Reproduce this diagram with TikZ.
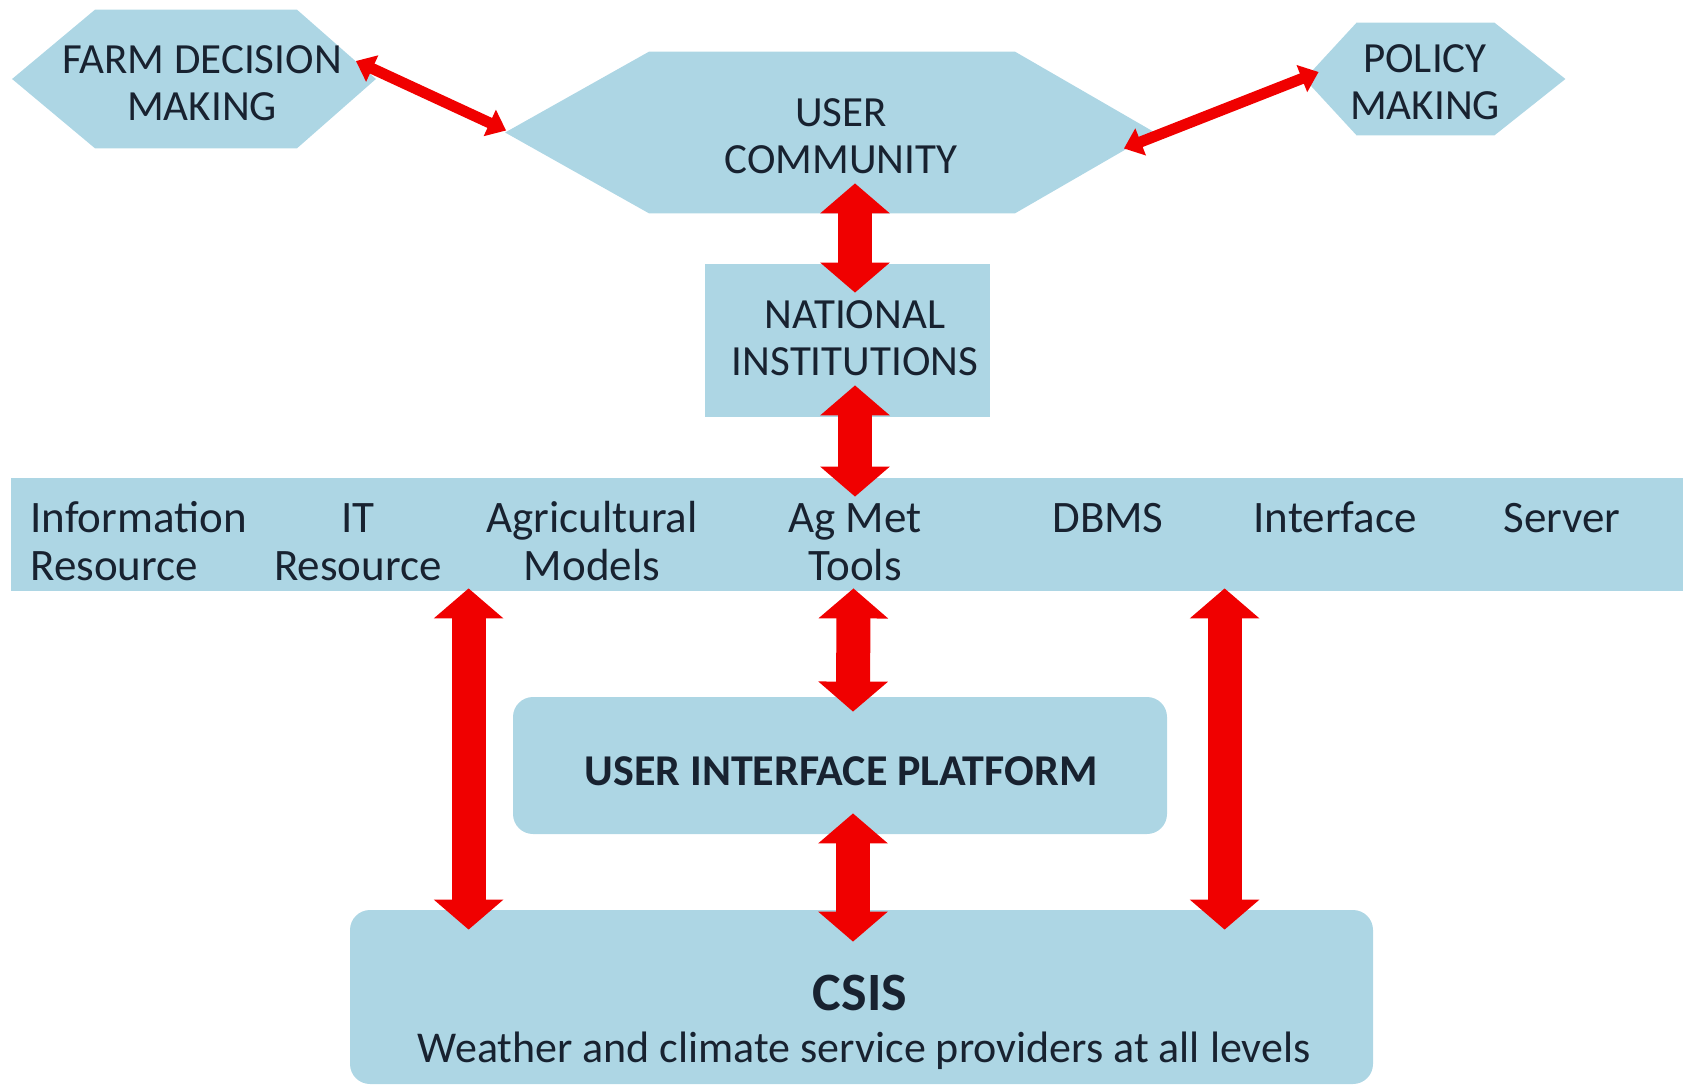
\documentclass[tikz,border=0pt]{standalone}
\usepackage{fontspec}
\setmainfont{Carlito}
\usetikzlibrary{arrows.meta,calc,backgrounds}
\definecolor{boxfill}{RGB}{173,214,228}
\definecolor{inkc}{RGB}{24,34,48}
\definecolor{arrred}{RGB}{240,0,0}
\tikzset{
  capfont/.style={font=\fontsize{21.5}{23.5}\selectfont},
  barfont/.style={font=\fontsize{22.5}{24}\selectfont},
  captext/.style={align=center, capfont},
  roundbox/.style={fill=boxfill, rounded corners=10pt},
  bigarrow/.style={draw=arrred, line width=17pt,
    {Triangle[width=34pt,length=15pt]}-{Triangle[width=34pt,length=15pt]}},
  thinarrow/.style={draw=arrred, line width=5.5pt,
    {Triangle[width=14pt,length=9pt]}-{Triangle[width=14pt,length=9pt]}}
}
\begin{document}
\begin{tikzpicture}[x=0.5pt,y=-0.5pt, every node/.style={inner sep=0pt, text=inkc}]
\useasboundingbox (0,0) rectangle (1686,1086);

% hexagon shapes (named areas, filled on background layer)
\node[minimum width=181.5pt, minimum height=69pt] (fd) at (194,79) {};
\node[minimum width=324.5pt, minimum height=80.5pt] (uc) at (830,132.5) {};
\node[minimum width=130pt, minimum height=56pt] (pm) at (1435,79) {};
\node[captext] (fdt) at (202,83) {FARM DECISION\\MAKING};
\node[captext] (uct) at (841,136) {USER\\COMMUNITY};
\node[captext] (pmt) at (1425,82) {POLICY\\MAKING};

% rectangles
\node[fill=boxfill, minimum width=142.5pt, minimum height=76.5pt] (ni) at (847.5,340.5) {};
\node[align=center, font=\fontsize{21.5}{23.5}\selectfont] (nit) at (855,338) {NATIONAL\\INSTITUTIONS};
\node[fill=boxfill, minimum width=836pt, minimum height=56.5pt] (bar) at (847,534.5) {};

% bar texts
\node[barfont, align=left, anchor=north west] (t1) at (30,498) {\strut Information\\\strut Resource};
\node[barfont, align=center, anchor=north] (t2) at (358,498) {\strut IT\\\strut Resource};
\node[barfont, align=center, anchor=north] (t3) at (592,498) {\strut Agricultural\\\strut Models};
\node[barfont, align=center, anchor=north] (t4) at (855,498) {\strut Ag Met\\\strut Tools};
\node[barfont, anchor=north] (t5) at (1108,498) {\strut DBMS};
\node[barfont, anchor=north] (t6) at (1335,498) {\strut Interface};
\node[barfont, anchor=north] (t7) at (1562,498) {\strut Server};

% rounded boxes
\node[roundbox, minimum width=327pt, minimum height=68.5pt] (uip) at (840,765.5) {};
\node[font=\bfseries\fontsize{22}{24}\selectfont] (uipt) at (841,771) {USER INTERFACE PLATFORM};
\node[roundbox, minimum width=511.5pt, minimum height=87pt] (csis) at (861.5,997) {};
\node[font=\bfseries\fontsize{27}{30}\selectfont] (csist) at (860,993) {CSIS};
\node[font=\fontsize{22}{26}\selectfont] (csiss) at (864,1051) {Weather and climate service providers at all levels};

% hexagon fills
\begin{scope}[on background layer]
\fill[boxfill] (fd.west) -- ($(fd.north west)+(83,0)$) -- ($(fd.north east)+(-79,0)$) -- (fd.east)
  -- ($(fd.south east)+(-79,0)$) -- ($(fd.south west)+(83,0)$) -- cycle;
\fill[boxfill] (uc.west) -- ($(uc.north west)+(144,0)$) -- ($(uc.north east)+(-140,0)$) -- (uc.east)
  -- ($(uc.south east)+(-140,0)$) -- ($(uc.south west)+(144,0)$) -- cycle;
\fill[boxfill] (pm.west) -- ($(pm.north west)+(52,0)$) -- ($(pm.north east)+(-71,0)$) -- (pm.east)
  -- ($(pm.south east)+(-71,0)$) -- ($(pm.south west)+(52,0)$) -- cycle;
\end{scope}

% arrows
\draw[thinarrow] ($(fd.east)+(-20,-18)$) -- ($(uc.west)+(1,-2)$);
\draw[thinarrow] ($(uc.east)+(-31,16)$) -- ($(pm.west)+(14,-7)$);
\draw[bigarrow] ($(uc.south)+(25,-30)$) -- ($(ni.north)+(7.5,29)$);
\draw[bigarrow] ($(ni.south)+(7.5,-32)$) -- ($(bar.north)+(8,19)$);
\draw[bigarrow] ($(bar.south)+(6.5,-3)$) -- ($(uip.north)+(13,15)$);
\draw[bigarrow] ($(uip.south)+(13,-21)$) -- ($(csis.north)+(-8.5,32)$);
\draw[bigarrow] ($(bar.south west)+(458,-3)$) -- ($(csis.north west)+(119,20)$);
\draw[bigarrow] ($(bar.south west)+(1214,-3)$) -- ($(csis.north west)+(875,20)$);
\end{tikzpicture}
\end{document}
